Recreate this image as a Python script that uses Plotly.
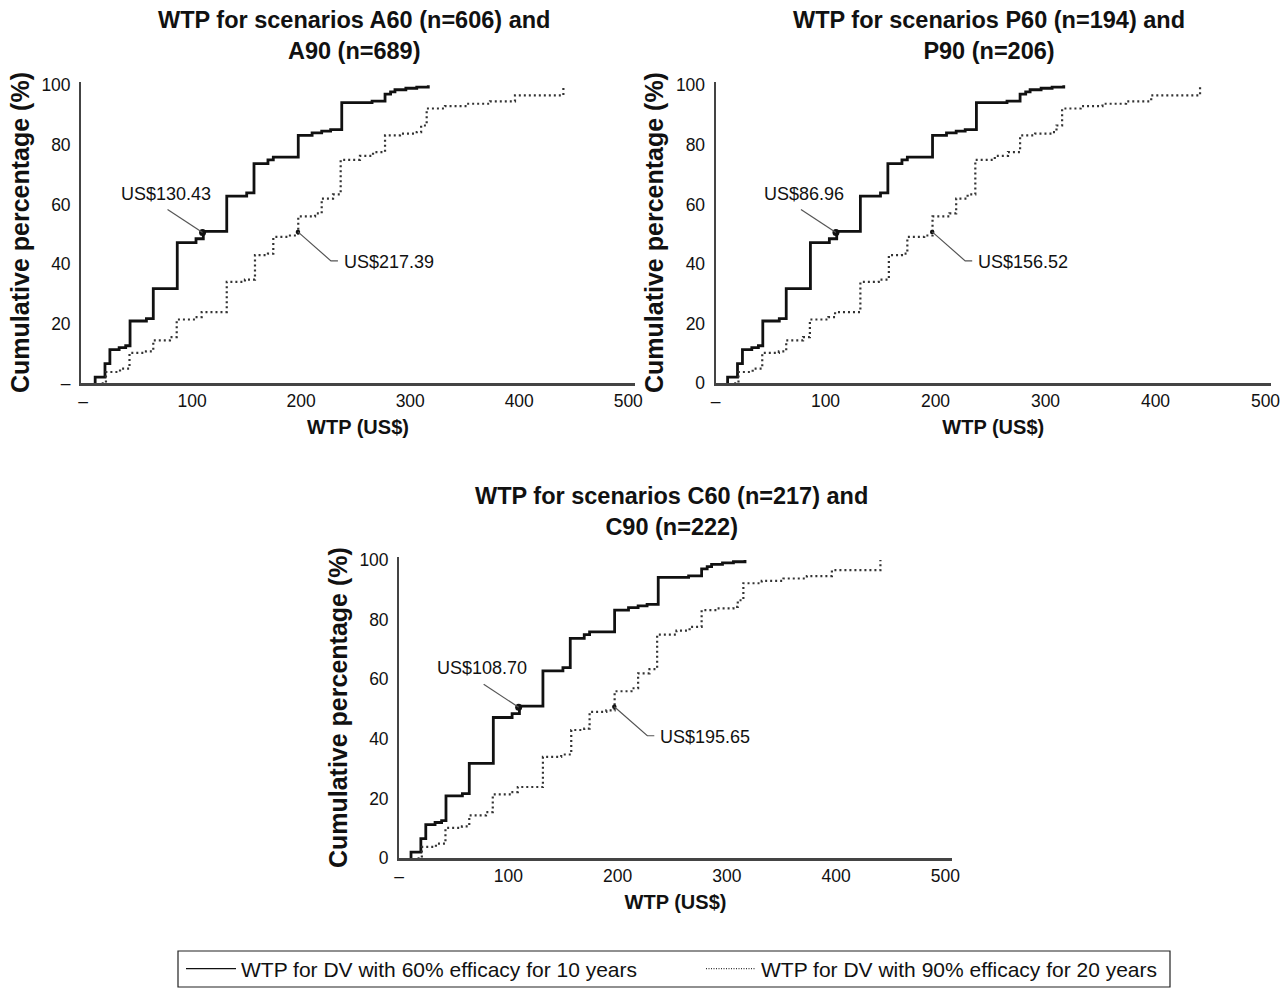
import plotly.graph_objects as go

# ---------------- data ----------------
panel_titles = [
    "WTP for scenarios A60 (n=606) and<br>A90 (n=689)",
    "WTP for scenarios P60 (n=194) and<br>P90 (n=206)",
    "WTP for scenarios C60 (n=217) and<br>C90 (n=222)",
]
median_labels_60 = ["US$130.43", "US$86.96", "US$108.70"]
median_labels_90 = ["US$217.39", "US$156.52", "US$195.65"]

# cumulative distribution, 60% efficacy for 10 years (WTP in US$, cumulative %)
wtp_60 = [11, 11, 20, 24.5, 33, 39, 43, 58, 64.3, 86.3, 103.5, 110.2, 131.7, 150,
          156.7, 169.5, 174.4, 197.3, 210, 218.8, 227, 237.2, 265, 276.9, 282,
          286, 296, 306, 316.6]
cum_60 = [0, 2.1, 6.6, 11.3, 12.0, 12.6, 20.9, 21.7, 31.8, 47.2, 48.5, 51.0, 62.8,
          63.9, 73.7, 75.0, 75.9, 83.2, 84.0, 84.6, 85.1, 94.2, 94.7, 97.0, 97.8,
          98.5, 99.0, 99.4, 100]

# cumulative distribution, 90% efficacy for 20 years
wtp_90 = [17, 20.9, 33.8, 42.5, 57.6, 64.3, 79.6, 85.8, 102.6, 108.7, 131.7, 148.4,
          157.6, 169.5, 174.4, 189.7, 197.3, 212.7, 218.8, 229.2, 236.2, 253.9,
          265.9, 276.9, 290.6, 306, 310, 315.1, 331.9, 351.8, 373.2, 396.1, 440.5]
cum_90 = [0, 3.8, 4.9, 10.2, 10.7, 14.4, 15.5, 21.4, 22.2, 23.9, 34.0, 34.8, 43.0,
          43.5, 49.1, 49.6, 56.0, 57.0, 62.0, 63.4, 75.0, 76.3, 77.6, 83.2, 83.8,
          84.3, 86.5, 92.2, 93.0, 93.8, 94.6, 96.6, 100]

# plotted median points
median_60 = (109.5, 50.6)
median_90 = (197.0, 50.8)

x_tickvals = [0, 100, 200, 300, 400, 500]
x_ticktext = ["–", "100", "200", "300", "400", "500"]
y_tickvals = [0, 20, 40, 60, 80, 100]
y_ticktext_first = ["–", "20", "40", "60", "80", "100"]
y_ticktext_other = ["0", "20", "40", "60", "80", "100"]

legend_60 = "WTP for DV with 60% efficacy for 10 years"
legend_90 = "WTP for DV with 90% efficacy for 20 years"

# ---------------- layout geometry ----------------
W, H = 1288, 990
OFF = 0  # page margin is removed below, so the figure starts at the window corner
FONT = "Liberation Sans, Arial, sans-serif"

def px_x(p):
    return (p - OFF) / W

def px_y(p):
    return 1 - (p - OFF) / H

def xd(a, b):
    return [px_x(a), px_x(b)]

def yd(top, bottom):
    return [px_y(bottom), px_y(top)]

# (x-domain px, y-domain px, x-range, y-range)
panels = [
    (xd(81, 635), yd(81.7, 383.3), [-2, 506.2], [0, 101.2]),
    (xd(715.5, 1271), yd(81.7, 383.3), [0, 505], [0, 101.2]),
    (xd(399, 952), yd(557, 858.3), [0, 506], [0, 101]),
]

fig = go.Figure()

for i, (xdom, ydom, xr, yr) in enumerate(panels):
    n = "" if i == 0 else str(i + 1)
    xa, ya = "x" + n, "y" + n
    fig.add_trace(go.Scatter(
        x=wtp_60, y=cum_60, xaxis=xa, yaxis=ya, mode="lines",
        line=dict(color="#111111", width=2.8, shape="hv"),
        showlegend=False, hoverinfo="x+y"))
    fig.add_trace(go.Scatter(
        x=wtp_90, y=cum_90, xaxis=xa, yaxis=ya, mode="lines",
        line=dict(color="#333333", width=2.2, dash="2px,3px", shape="hv"),
        showlegend=False, hoverinfo="x+y"))
    fig.add_trace(go.Scatter(
        x=[median_60[0]], y=[median_60[1]], xaxis=xa, yaxis=ya, mode="markers",
        marker=dict(color="#111111", size=7), showlegend=False, hoverinfo="skip"))
    fig.add_trace(go.Scatter(
        x=[median_90[0]], y=[median_90[1]], xaxis=xa, yaxis=ya, mode="markers",
        marker=dict(color="#111111", size=4.5), showlegend=False, hoverinfo="skip"))

    axis_common = dict(showgrid=False, zeroline=False, showline=True,
                       linecolor="#444444", ticks="", mirror=False, automargin=False,
                       tickfont=dict(family=FONT, size=17.5, color="#111111"))
    fig.update_layout(**{
        ("xaxis" + n): dict(domain=xdom, range=xr, anchor=ya,
                            tickvals=x_tickvals, ticktext=x_ticktext,
                            linewidth=2.8,
                            title=dict(text="<b>WTP (US$)</b>", standoff=10,
                                       font=dict(family=FONT, size=20, color="#111111")),
                            **axis_common),
        ("yaxis" + n): dict(domain=ydom, range=yr, anchor=xa,
                            tickvals=y_tickvals,
                            ticktext=y_ticktext_first if i == 0 else y_ticktext_other,
                            linewidth=1.8, ticklabelstandoff=5,
                            title=dict(text="<b>Cumulative percentage (%)</b>", standoff=5,
                                       font=dict(family=FONT, size=25, color="#111111")),
                            **axis_common),
    })

    # panel title (two lines, centred over the plot area)
    fig.add_annotation(text="<b>" + panel_titles[i] + "</b>", xref="paper", yref="paper",
                       x=(xdom[0] + xdom[1]) / 2 - 4 / W, y=ydom[1], yshift=46,
                       xanchor="center", yanchor="middle", showarrow=False,
                       font=dict(family=FONT, size=23.5, color="#111111"))

    # median labels with leader lines (anchored to the median points)
    mx, my = median_60
    fig.add_shape(type="path", xref=xa, yref=ya, xsizemode="pixel", ysizemode="pixel",
                  xanchor=mx, yanchor=my, path="M0,0 L-35,23",
                  line=dict(color="#555555", width=1.2))
    fig.add_annotation(text=median_labels_60[i], xref=xa, yref=ya, x=mx, y=my,
                       xanchor="right", yanchor="middle", xshift=10, yshift=39,
                       showarrow=False, font=dict(family=FONT, size=18, color="#111111"))
    mx, my = median_90
    fig.add_shape(type="path", xref=xa, yref=ya, xsizemode="pixel", ysizemode="pixel",
                  xanchor=mx, yanchor=my, path="M0,0 L33,-29 L40,-29",
                  line=dict(color="#555555", width=1.2))
    fig.add_annotation(text=median_labels_90[i], xref=xa, yref=ya, x=mx, y=my,
                       xanchor="left", yanchor="middle", xshift=44, yshift=-30,
                       showarrow=False, font=dict(family=FONT, size=18, color="#111111"))

# legend entries (thin sample lines, as in the reference legend), one legend per entry
fig.add_trace(go.Scatter(x=[None], y=[None], mode="lines", name=legend_60,
                         line=dict(color="#111111", width=1.2), legend="legend"))
fig.add_trace(go.Scatter(x=[None], y=[None], mode="lines", name=legend_90,
                         line=dict(color="#333333", width=1.4, dash="1px,1.5px"),
                         legend="legend2"))

# frame around the two legend entries
fig.add_shape(type="rect", xref="paper", yref="paper",
              x0=px_x(178), x1=px_x(1170), y0=px_y(987), y1=px_y(951),
              line=dict(color="#222222", width=1.2), fillcolor="rgba(0,0,0,0)")

legend_common = dict(orientation="h", yanchor="middle", xanchor="left",
                     bgcolor="rgba(0,0,0,0)", borderwidth=0,
                     font=dict(family=FONT, size=21, color="#111111"),
                     itemwidth=50)

fig.update_layout(
    width=W, height=H,
    margin=dict(l=0, r=0, t=0, b=0, autoexpand=False),
    paper_bgcolor="white", plot_bgcolor="white",
    font=dict(family=FONT, size=17, color="#111111"),
    showlegend=True,
    legend=dict(x=px_x(181), y=px_y(969), **legend_common),
    legend2=dict(x=px_x(701), y=px_y(969), **legend_common),
)

fig.write_html(
    "out.html",
    config={"displayModeBar": False},
    post_script="document.body.style.margin='0';document.body.style.overflow='hidden';",
)
